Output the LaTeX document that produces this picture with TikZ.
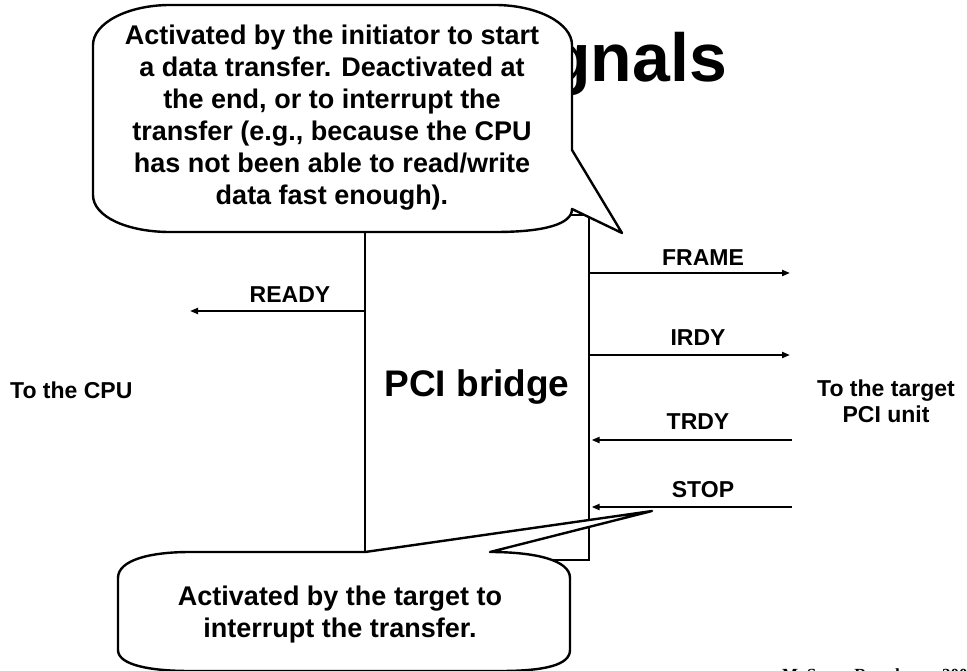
\documentclass[tikz,border=0pt]{standalone}
\usepackage{fontspec}
\setmainfont{Liberation Sans}
\newfontfamily\footfont{Liberation Serif}
\usetikzlibrary{arrows.meta}

\begin{document}
\begin{tikzpicture}[x=1pt,y=-1pt,
    callout/.style={draw,fill=white,line width=2.4pt,line join=round},
    sig/.style={line width=2pt,-{Triangle[length=8pt,width=6pt]}},
    lbl/.style={font=\fontsize{23}{26}\selectfont\bfseries,inner sep=0pt},
    note/.style={font=\fontsize{27}{32}\selectfont\bfseries,align=center,inner sep=0pt}]
  \useasboundingbox (0,0) rectangle (967,671);
  % title, mostly under the callout
  \node[anchor=base east,inner sep=0pt,font=\fontsize{68}{72}\selectfont\bfseries] (title) at (727,82) {gnals};
  % the bridge
  \node[draw,line width=2.6pt,minimum width=224pt,minimum height=345pt,inner sep=0pt,
        font=\fontsize{37}{40}\selectfont\bfseries] (bridge) at (477,387.5) {\raisebox{-4pt}{PCI bridge}};
  \node[lbl,anchor=west] (cpu) at (10,390) {To the CPU};
  \node[lbl,align=center] (target) at (886,401) {To the target\\PCI unit};
  % signals
  \coordinate (frameEnd) at (790,273);
  \coordinate (irdyEnd) at (790,355);
  \coordinate (trdyEnd) at (792,440);
  \coordinate (stopEnd) at (792,507);
  \coordinate (readyEnd) at (190,311);
  \draw[sig] (bridge.east |- frameEnd) -- (frameEnd);
  \draw[sig] (bridge.east |- irdyEnd) -- (irdyEnd);
  \draw[sig,shorten >=1.3pt] (trdyEnd) -- (bridge.east |- trdyEnd);
  \draw[sig,shorten >=1.3pt] (stopEnd) -- (bridge.east |- stopEnd);
  \draw[sig] (bridge.west |- readyEnd) -- (readyEnd);
  \node[lbl] (frame) at (703,258) {FRAME};
  \node[lbl] (irdy) at (698,338) {IRDY};
  \node[lbl] (trdy) at (698,422) {TRDY};
  \node[lbl] (stop) at (703,490) {STOP};
  \node[lbl] (ready) at (290,295) {READY};
  % callouts
  \path[callout] (170,5) -- (495,5) .. controls (537,5) and (572,23) .. (572,45)
    -- (572,150) -- (622,233) -- (572,209) .. controls (572,224) and (545,232) .. (495,232)
    -- (170,232) .. controls (128,232) and (93,217) .. (93,195)
    -- (93,45) .. controls (93,23) and (128,5) .. (170,5) -- cycle;
  \node[note] (frameNote) at (332,118) {Activated by the initiator to start\\a data transfer. Deactivated at\\the end, or to interrupt the\\transfer (e.g., because the CPU\\has not been able to read/write\\data fast enough).};
  \path[callout] (365,552) -- (652,511) -- (490,552) .. controls (535,552) and (570,560) .. (570,578)
    -- (570,650) .. controls (570,665) and (545,671) .. (500,671)
    -- (190,671) .. controls (150,671) and (118,665) .. (118,650)
    -- (118,578) .. controls (118,560) and (150,552) .. (190,552) -- cycle;
  \node[note] (stopNote) at (340,615) {Activated by the target to\\interrupt the transfer.};
  % footer, cut by the page edge
  \node[anchor=base west,inner sep=0pt,font=\footfont\fontsize{17}{20}\selectfont\bfseries] (author) at (782,680) {M. Sonza Reorda};
  \node[anchor=base west,inner sep=0pt,font=\footfont\fontsize{17}{20}\selectfont\bfseries] (year) at (942,680) {200};
\end{tikzpicture}
\end{document}
